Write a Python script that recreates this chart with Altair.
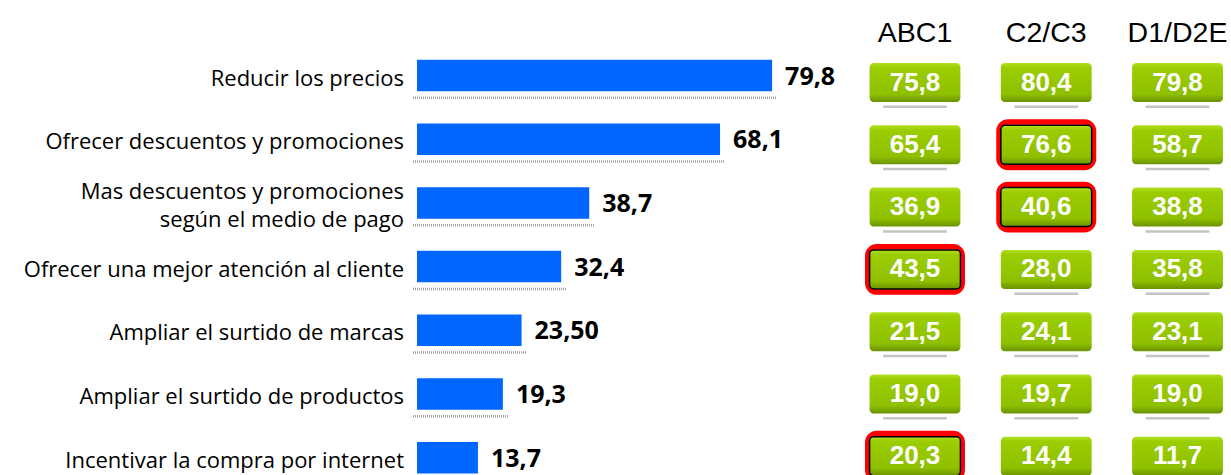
import altair as alt
import pandas as pd

categories = [
    "Reducir los precios",
    "Ofrecer descuentos y promociones",
    "Mas descuentos y promociones\nsegún el medio de pago",
    "Ofrecer una mejor atención al cliente",
    "Ampliar el surtido de marcas",
    "Ampliar el surtido de productos",
    "Incentivar la compra por internet",
]
totals = [79.8, 68.1, 38.7, 32.4, 23.5, 19.3, 13.7]
total_labels = ["79,8", "68,1", "38,7", "32,4", "23,50", "19,3", "13,7"]

segments = ["ABC1", "C2/C3", "D1/D2E"]
abc1 = [75.8, 65.4, 36.9, 43.5, 21.5, 19.0, 20.3]
c2c3 = [80.4, 76.6, 40.6, 28.0, 24.1, 19.7, 14.4]
d1d2e = [79.8, 58.7, 38.8, 35.8, 23.1, 19.0, 11.7]
hl_abc1 = [False, False, False, True, False, False, True]
hl_c2c3 = [False, True, True, False, False, False, False]
hl_d1d2e = [False, False, False, False, False, False, False]

bars_df = pd.DataFrame({"row": list(range(len(categories))), "cat": categories,
                        "value": totals, "label": total_labels})
recs = []
for c, (seg, vals, hls) in enumerate(zip(segments, [abc1, c2c3, d1d2e],
                                          [hl_abc1, hl_c2c3, hl_d1d2e])):
    for r, (v, h) in enumerate(zip(vals, hls)):
        recs.append({"col": c, "seg": seg, "row": r, "value": v,
                     "label": f"{v:.1f}".replace(".", ","), "hl": h})
box_df = pd.DataFrame(recs)
head_df = pd.DataFrame({"col": list(range(len(segments))), "seg": segments})

def xb():
    return alt.Scale(domain=[0, 100], range=[417, 862], zero=False, nice=False)
def yb():
    return alt.Scale(domain=[0, 6], range=[75.5, 457.7], zero=False, nice=False)
def xc():
    return alt.Scale(domain=[0, 2], range=[915, 1177.5], zero=False, nice=False)
def yc():
    return alt.Scale(domain=[0, 6], range=[82.5, 456.3], zero=False, nice=False)

base_b = alt.Chart(bars_df)

shadow = base_b.transform_calculate(
    xs="-0.9", xe="datum.value + 1.1", ys="datum.row + 0.35"
).mark_rule(color="#a0a0a0", strokeWidth=2.5, strokeDash=[1, 1]).encode(
    x=alt.X("xs:Q", scale=xb(), axis=None),
    x2="xe:Q",
    y=alt.Y("ys:Q", scale=yb(), axis=None),
)

bars = base_b.transform_calculate(
    x0="0", y1="datum.row - 0.247", y2="datum.row + 0.247"
).mark_rect(color="#0066FF").encode(
    x=alt.X("x0:Q", scale=xb(), axis=None),
    x2="value:Q",
    y=alt.Y("y1:Q", scale=yb(), axis=None),
    y2="y2:Q",
)

cat_single = base_b.transform_filter("indexof(datum.cat, '\\n') < 0").transform_calculate(
    x0="0").mark_text(
    align="right", baseline="middle", dx=-13, dy=3, font="Open Sans",
    fontSize=22, color="black"
).encode(
    x=alt.X("x0:Q", scale=xb(), axis=None),
    y=alt.Y("row:Q", scale=yb(), axis=None),
    text="cat:N",
)

cat_multi = base_b.transform_filter("indexof(datum.cat, '\\n') >= 0").transform_calculate(
    x0="0").mark_text(
    align="right", baseline="middle", dx=-13, dy=-11, font="Open Sans",
    fontSize=22, color="black", lineBreak="\n", lineHeight=28
).encode(
    x=alt.X("x0:Q", scale=xb(), axis=None),
    y=alt.Y("row:Q", scale=yb(), axis=None),
    text="cat:N",
)

val_text = base_b.mark_text(
    align="left", baseline="middle", dx=13, dy=1, font="Open Sans",
    fontWeight="bold", fontSize=25, color="black"
).encode(
    x=alt.X("value:Q", scale=xb(), axis=None),
    y=alt.Y("row:Q", scale=yb(), axis=None),
    text="label:N",
)

base_c = alt.Chart(box_df)

box_shadow = base_c.transform_filter("!datum.hl").transform_calculate(
    xs="datum.col - 0.243", xe="datum.col + 0.243", ys="datum.row + 0.39"
).mark_rule(color="#c4c4c4", strokeWidth=2.5).encode(
    x=alt.X("xs:Q", scale=xc(), axis=None),
    x2="xe:Q",
    y=alt.Y("ys:Q", scale=yc(), axis=None),
)

red = base_c.transform_filter("datum.hl").transform_calculate(
    xs="datum.col - 0.36", xe="datum.col + 0.36",
    ys="datum.row - 0.364", ye="datum.row + 0.364"
).mark_rect(fill="transparent", stroke="#ff0000", strokeWidth=5.5, cornerRadius=9).encode(
    x=alt.X("xs:Q", scale=xc(), axis=None),
    x2="xe:Q",
    y=alt.Y("ys:Q", scale=yc(), axis=None),
    y2="ye:Q",
)

green_grad = {
    "gradient": "linear", "x1": 0, "x2": 0, "y1": 0, "y2": 1,
    "stops": [
        {"offset": 0, "color": "#b2e020"},
        {"offset": 0.12, "color": "#9bcd02"},
        {"offset": 0.8, "color": "#8fc000"},
        {"offset": 1, "color": "#6a9200"},
    ],
}

boxes = base_c.transform_calculate(
    xs="datum.col - 0.346", xe="datum.col + 0.346",
    ys="datum.row - 0.313", ye="datum.row + 0.313"
).mark_rect(fill=green_grad, stroke="black", cornerRadius=4).encode(
    x=alt.X("xs:Q", scale=xc(), axis=None),
    x2="xe:Q",
    y=alt.Y("ys:Q", scale=yc(), axis=None),
    y2="ye:Q",
    strokeWidth=alt.condition("datum.hl", alt.value(1.5), alt.value(0)),
)

box_text = base_c.mark_text(
    align="center", baseline="middle", dy=0, font="Liberation Sans",
    fontWeight="bold", fontSize=26, color="white"
).encode(
    x=alt.X("col:Q", scale=xc(), axis=None),
    y=alt.Y("row:Q", scale=yc(), axis=None),
    text="label:N",
)

headers = alt.Chart(head_df).transform_calculate(hy="-0.8").mark_text(
    align="center", baseline="middle", font="Liberation Sans",
    fontSize=28.5, color="black"
).encode(
    x=alt.X("col:Q", scale=xc(), axis=None),
    y=alt.Y("hy:Q", scale=yc(), axis=None),
    text="seg:N",
)

chart = alt.layer(
    shadow, bars, cat_single, cat_multi, val_text, box_shadow, red, boxes, box_text, headers
).resolve_scale(x="independent", y="independent").properties(
    width=1231, height=475, padding=0,
    autosize=alt.AutoSizeParams(type="none"), background="white"
).configure_view(stroke=None)

chart.save("out.html", embed_options={"renderer": "svg", "actions": False})
